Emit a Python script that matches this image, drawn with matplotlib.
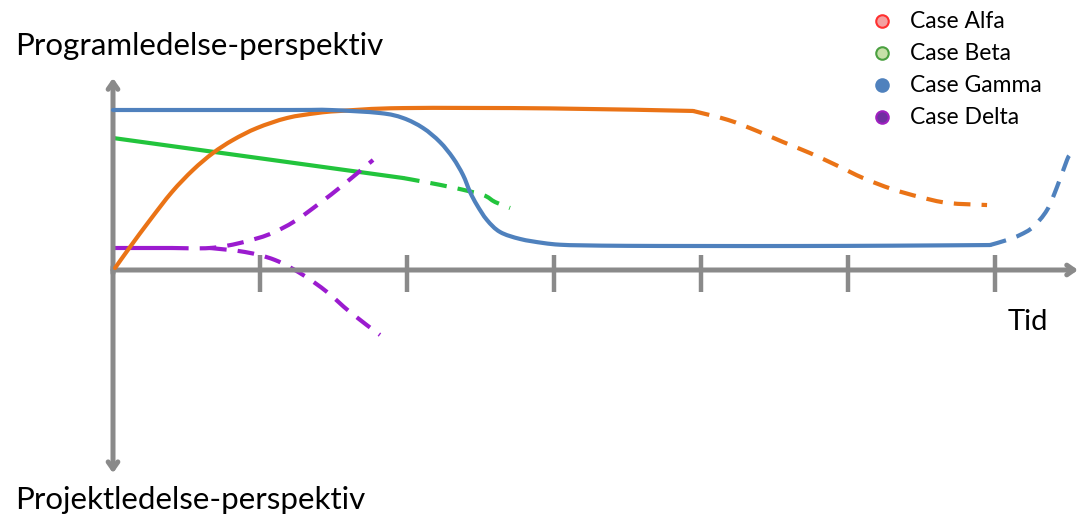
import numpy as np
import matplotlib
matplotlib.use("Agg")
import matplotlib.pyplot as plt
from matplotlib.path import Path
from matplotlib.patches import PathPatch

# x in "tid" units (tick k at x=k), y in perspective units (+ program, - projekt)
alfa_x = [0.014, 0.116, 0.252, 0.401, 0.544, 0.680, 0.816, 0.980, 1.184, 1.388, 1.544, 1.973, 2.973, 3.946]
alfa_y = [0.0125, 0.144, 0.3125, 0.4875, 0.625, 0.731, 0.8125, 0.8875, 0.95, 0.981, 0.994, 1.012, 1.010, 0.994]
alfa_dx = [3.946, 4.184, 4.381, 4.558, 4.741, 4.932, 5.102, 5.299, 5.490, 5.680, 5.946]
alfa_dy = [0.994, 0.938, 0.869, 0.800, 0.731, 0.650, 0.575, 0.506, 0.456, 0.419, 0.406]

beta_x = [0.0, 1.973]
beta_y = [0.825, 0.575]
beta_dx = [1.973, 2.122, 2.327, 2.517, 2.599, 2.701]
beta_dy = [0.575, 0.55, 0.5125, 0.469, 0.425, 0.3875]

gamma_x = [0.0, 1.2, 1.476, 1.816, 1.973, 2.109, 2.224, 2.313, 2.381, 2.429, 2.476, 2.544, 2.633,
           2.769, 2.925, 3.041, 3.2, 3.5, 4.0, 4.673, 5.3, 5.966]
gamma_y = [1.0, 1.0, 1.0, 0.981, 0.95, 0.8875, 0.8, 0.7, 0.594, 0.4875, 0.406, 0.3125, 0.2375,
           0.194, 0.169, 0.158, 0.154, 0.151, 0.150, 0.150, 0.152, 0.156]
gamma_dx = [5.966, 6.082, 6.170, 6.259, 6.354, 6.422, 6.490, 6.510]
gamma_dy = [0.156, 0.1875, 0.219, 0.269, 0.375, 0.519, 0.688, 0.72]

delta_x = [0.0, 0.401]
delta_y = [0.1375, 0.1375]
delta_up_x = [0.401, 0.660, 0.864, 1.068, 1.238, 1.408, 1.565, 1.769]
delta_up_y = [0.1375, 0.1375, 0.169, 0.225, 0.306, 0.419, 0.531, 0.6875]
delta_dn_x = [0.660, 0.898, 1.102, 1.293, 1.456, 1.612, 1.816]
delta_dn_y = [0.1375, 0.1125, 0.0625, -0.031, -0.1375, -0.2625, -0.406]

ticks = [1, 2, 3, 4, 5, 6]
cases = ["Case Alfa", "Case Beta", "Case Gamma", "Case Delta"]
case_face = ["#f4a0a0", "#c6e0a8", "#4f81bd", "#7030a0"]
case_edge = ["#ff3030", "#4aa040", "#4f81bd", "#a020c0"]

ORANGE = "#ea7316"
GREEN = "#22c43c"
BLUE = "#4f81bd"
PURPLE = "#9b1bcf"
GRAY = "#8a8a8a"

plt.rcParams.update({"font.family": ["Lato", "DejaVu Sans"], "lines.scale_dashes": False})


def smooth(ax, xs, ys, color, dashed=False, z=2):
    # Catmull-Rom through the read points, drawn as cubic Bezier path
    p = np.column_stack([xs, ys]).astype(float)
    verts, codes = [p[0]], [Path.MOVETO]
    for i in range(len(p) - 1):
        p0 = p[i - 1] if i > 0 else p[i]
        p3 = p[i + 2] if i + 2 < len(p) else p[i + 1]
        verts += [p[i] + (p[i + 1] - p0) / 6, p[i + 1] - (p3 - p[i]) / 6, p[i + 1]]
        codes += [Path.CURVE4] * 3
    ls = (0, (12, 8)) if dashed else "-"
    ax.add_patch(PathPatch(Path(verts, codes), fill=False, ec=color, lw=3.0, ls=ls,
                           capstyle="butt" if dashed else "round", joinstyle="round", zorder=z))


fig = plt.figure(figsize=(10.79, 5.20), dpi=100)
ax = fig.add_axes([0, 0, 1, 1])
ax.set_xlim(-113 / 147, 966 / 147)
ax.set_ylim(-250 / 160, 270 / 160)
ax.axis("off")

# axes with arrows
arr = dict(arrowstyle="->,head_length=0.5,head_width=0.35", color=GRAY, lw=3.6, shrinkA=0, shrinkB=0)
ax.annotate("", xy=(6.565, 0), xytext=(0, 0), arrowprops=arr)
ax.annotate("", xy=(0, 1.2), xytext=(0, -0.02), arrowprops=arr)
ax.annotate("", xy=(0, -1.27), xytext=(0, 0.02), arrowprops=arr)
for t in ticks:
    ax.plot([t, t], [0.094, -0.1375], color=GRAY, lw=3.2, solid_capstyle="butt")

smooth(ax, beta_x, beta_y, GREEN)
smooth(ax, beta_dx, beta_dy, GREEN, dashed=True)
smooth(ax, delta_x, delta_y, PURPLE)
smooth(ax, delta_up_x, delta_up_y, PURPLE, dashed=True)
smooth(ax, delta_dn_x, delta_dn_y, PURPLE, dashed=True)
smooth(ax, alfa_x, alfa_y, ORANGE, z=3)
smooth(ax, alfa_dx, alfa_dy, ORANGE, dashed=True, z=3)
smooth(ax, gamma_x, gamma_y, BLUE, z=4)
smooth(ax, gamma_dx, gamma_dy, BLUE, dashed=True, z=4)

# labels
fig.text(15 / 1079, 1 - 46 / 520, "Programledelse-perspektiv", fontsize=22.5, va="center", ha="left")
fig.text(15 / 1079, 1 - 500 / 520, "Projektledelse-perspektiv", fontsize=22.5, va="center", ha="left")
fig.text(1008 / 1079, 1 - 322 / 520, "Tid", fontsize=21, va="center", ha="left")

# legend
for i, (name, fc, ec) in enumerate(zip(cases, case_face, case_edge)):
    yy = 1 - (21 + 32 * i) / 520
    fig.lines.append(plt.Line2D([882 / 1079], [yy], marker="o", ms=9, mfc=fc, mec=ec, mew=1.5,
                                transform=fig.transFigure))
    fig.text(910 / 1079, yy, name, fontsize=16.5, va="center", ha="left")

fig.savefig("out.png", dpi=100)
